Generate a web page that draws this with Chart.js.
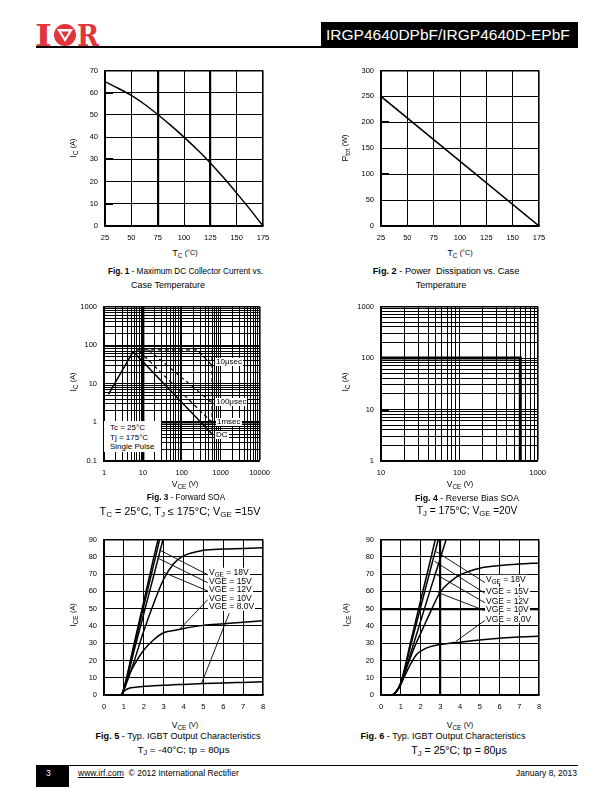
<!DOCTYPE html>
<html>
<head>
<meta charset="utf-8">
<script src="https://cdn.jsdelivr.net/npm/chart.js@4.4.1/dist/chart.umd.min.js"></script>
<style>
  body { margin: 0; width: 612px; height: 792px; position: relative; background: #fff;
         font-family: "Liberation Sans", Arial, sans-serif; color: #000; overflow: hidden; }
  canvas { position: absolute; }
  .t { position: absolute; white-space: nowrap; line-height: 1; }
  .c { transform: translate(-50%, -50%); text-align: center; }
  .yt { transform: translate(-50%, -50%) rotate(-90deg); }
  .lbl { background: #fff; padding: 0 1px; transform: translateY(-50%); }
  sub { font-size: 75%; vertical-align: -0.3em; line-height: 0; }
  .un { font-size: 85%; vertical-align: 0.15em; }
</style>
</head>
<body>

<!-- header -->
<svg class="t" style="left:35px;top:21px" width="66" height="28" viewBox="0 0 66 28">
  <text x="0" y="25" font-family="DejaVu Serif" font-weight="bold" font-size="30" fill="#e2353b" textLength="17" lengthAdjust="spacingAndGlyphs">I</text>
  <circle cx="30" cy="14" r="11" fill="#e2353b"/>
  <polygon points="22,8 38,8 30,21" fill="#fff"/>
  <polygon points="26,10.5 34,10.5 30,17" fill="#e2353b"/>
  <text x="42" y="25" font-family="DejaVu Serif" font-weight="bold" font-size="30" fill="#e2353b" textLength="22" lengthAdjust="spacingAndGlyphs">R</text>
</svg>
<div class="t" style="left:36px;top:46px;width:542px;height:1.5px;background:#000"></div>
<div class="t" style="left:321px;top:22px;width:257px;height:25px;background:#000;color:#fff;font-size:15.5px;line-height:25px;padding-left:5px;box-sizing:border-box">IRGP4640DPbF/IRGP4640D-EPbF</div>

<!-- axis titles -->
<div class="t yt" style="left:73px;top:148px;font-size:8.5px">I<sub>C</sub> <span class="un">(A)</span></div>
<div class="t c" style="left:185px;top:253px;font-size:8.5px">T<sub>C</sub> <span class="un">(°C)</span></div>
<div class="t yt" style="left:345px;top:148px;font-size:8.5px">P<sub>tot</sub> <span class="un">(W)</span></div>
<div class="t c" style="left:460px;top:253px;font-size:8.5px">T<sub>C</sub> <span class="un">(°C)</span></div>
<div class="t yt" style="left:73px;top:382px;font-size:8.5px">I<sub>C</sub> <span class="un">(A)</span></div>
<div class="t c" style="left:185px;top:484px;font-size:8.5px">V<sub>CE</sub> <span class="un">(V)</span></div>
<div class="t yt" style="left:345px;top:382px;font-size:8.5px">I<sub>C</sub> <span class="un">(A)</span></div>
<div class="t c" style="left:460px;top:484px;font-size:8.5px">V<sub>CE</sub> <span class="un">(V)</span></div>
<div class="t yt" style="left:73px;top:615px;font-size:8.5px">I<sub>CE</sub> <span class="un">(A)</span></div>
<div class="t c" style="left:185px;top:725px;font-size:8.5px">V<sub>CE</sub> <span class="un">(V)</span></div>
<div class="t yt" style="left:346px;top:615px;font-size:8.5px">I<sub>CE</sub> <span class="un">(A)</span></div>
<div class="t c" style="left:460px;top:725px;font-size:8.5px">V<sub>CE</sub> <span class="un">(V)</span></div>

<!-- captions -->
<div class="t c" style="left:185.5px;top:272px;font-size:8.2px"><b>Fig. 1</b> - Maximum DC Collector Current vs.</div>
<div class="t c" style="left:168px;top:284.5px;font-size:9px">Case Temperature</div>
<div class="t c" style="left:446px;top:272px;font-size:9.2px"><b>Fig. 2</b> - Power&nbsp; Dissipation vs. Case</div>
<div class="t c" style="left:441px;top:284.5px;font-size:9px">Temperature</div>
<div class="t c" style="left:186px;top:498px;font-size:8.2px"><b>Fig. 3</b> - Forward SOA</div>
<div class="t c" style="left:180px;top:510.5px;font-size:10.8px">T<sub>C</sub> = 25°C, T<sub>J</sub> ≤ 175°C; V<sub>GE</sub> =15V</div>
<div class="t c" style="left:467px;top:498px;font-size:8.8px"><b>Fig. 4</b> - Reverse Bias SOA</div>
<div class="t c" style="left:467px;top:510.5px;font-size:10.2px">T<sub>J</sub> = 175°C; V<sub>GE</sub> =20V</div>
<div class="t c" style="left:178px;top:737px;font-size:9.1px"><b>Fig. 5</b> - Typ. IGBT Output Characteristics</div>
<div class="t c" style="left:183.5px;top:749.5px;font-size:9.8px">T<sub>J</sub> = -40°C; tp = 80μs</div>
<div class="t c" style="left:443px;top:737px;font-size:9.1px"><b>Fig. 6</b> - Typ. IGBT Output Characteristics</div>
<div class="t c" style="left:459px;top:749.5px;font-size:10.5px">T<sub>J</sub> = 25°C; tp = 80μs</div>

<!-- footer -->
<div class="t" style="left:36px;top:765px;width:542px;height:1px;background:#000"></div>
<div class="t" style="left:36px;top:765px;width:33px;height:22px;background:#000;color:#fff;font-size:8.5px;line-height:16px;padding-left:10px;box-sizing:border-box">3</div>
<div class="t" style="left:78px;top:769px;font-size:8.5px"><u>www.irf.com</u>&nbsp; © 2012 International Rectifier</div>
<div class="t" style="left:500px;top:769px;width:77px;text-align:right;font-size:8.5px">January 8, 2013</div>

<!-- in-plot notes, Fig. 3 -->
<div class="t" style="left:104px;top:421px;width:57px;height:31px;background:#fff;font-size:8px;line-height:9.7px;padding:2px 0 0 6px;box-sizing:border-box">Tc = 25°C<br>Tj = 175°C<br>Single Pulse</div>
<div class="t lbl" style="left:215px;top:362px;font-size:8px">10μsec</div>
<div class="t lbl" style="left:215px;top:402px;font-size:8px">100μsec</div>
<div class="t lbl" style="left:216px;top:421.5px;font-size:8px">1msec</div>
<div class="t lbl" style="left:215px;top:435px;font-size:8px">DC</div>

<!-- in-plot notes, Fig. 5 -->
<div class="t lbl" style="left:208px;top:572px;font-size:8.5px">V<sub>GE</sub> = 18V</div>
<div class="t lbl" style="left:208px;top:580.5px;font-size:8.5px">VGE = 15V</div>
<div class="t lbl" style="left:208px;top:589px;font-size:8.5px">VGE = 12V</div>
<div class="t lbl" style="left:208px;top:597.7px;font-size:8.5px">VGE = 10V</div>
<div class="t lbl" style="left:208px;top:606.3px;font-size:8.5px">VGE = 8.0V</div>

<!-- in-plot notes, Fig. 6 -->
<div class="t lbl" style="left:485px;top:579px;font-size:8.5px">V<sub>GE</sub> = 18V</div>
<div class="t lbl" style="left:485px;top:591px;font-size:8.5px">VGE = 15V</div>
<div class="t lbl" style="left:485px;top:600.7px;font-size:8.5px">VGE = 12V</div>
<div class="t lbl" style="left:485px;top:608.7px;font-size:8.5px">VGE = 10V</div>
<div class="t lbl" style="left:485px;top:618.7px;font-size:8.5px">VGE = 8.0V</div>

<script>
// ---- Fig. 1: max DC collector current vs case temperature
const fig1Tc = [25, 37.5, 50, 62.5, 75, 87.5, 100, 112.5, 125, 137.5, 150, 162.5, 175];
const fig1Ic = [65, 62, 58.8, 54.8, 50.2, 45.3, 40, 34.4, 28.4, 21.8, 14.8, 7.6, 0];

// ---- Fig. 2: power dissipation vs case temperature
const fig2Tc = [25, 175];
const fig2Ptot = [250, 0];

// ---- Fig. 3: forward SOA (V, A)
const soaRiseV = [1.3, 5.6];
const soaRiseI = [5.3, 68];
const soaDcV = [5.6, 600];
const soaDcI = [68, 0.5];
const soa10usV = [7, 250, 600];
const soa10usI = [75, 75, 30];
const soa100usV = [14, 600];
const soa100usI = [75, 3.2];
const soa1msV = [8, 600];
const soa1msI = [70, 1.0];
const soaVmaxV = [600, 600];
const soaVmaxI = [75, 0.5];

// ---- Fig. 4: reverse bias SOA
const rbsoaV = [10, 600, 600];
const rbsoaI = [100, 100, 1];

// ---- Fig. 5: output characteristics, Tj = -40 C
const f5Vce = [0, 0.85, 1.0, 1.2, 1.5, 2.0, 2.5, 3.0, 3.5, 4.0, 5.0, 6.0, 7.0, 8.0];
const f5Ic12 = [0, 0, 3, 9, 19, 37, 53, 67, 76, 80.5, 83.8, 84.5, 84.8, 85.2];
const f5Ic10 = [0, 0, 3, 10, 17, 26, 32, 36, 37.3, 38.5, 40.3, 41.2, 42.1, 43];
const f5Ic8 = [0, 0, 2, 3.6, 4.4, 5, 5.3, 5.6, 5.9, 6.1, 6.6, 7, 7.3, 7.6];
const f5VceA = [0, 0.85, 1.0, 1.5, 2.0, 2.5, 2.72];
const f5IcA = [0, 0, 4, 29, 54, 79.5, 90];
const f5Vce18 = [0, 0.85, 1.0, 1.5, 2.0, 2.5, 2.8];
const f5Ic18 = [0, 0, 3.5, 27.5, 51.5, 75.5, 90];
const f5Vce15 = [0, 0.85, 1.0, 1.5, 2.0, 2.5, 2.97];
const f5Ic15 = [0, 0, 3, 25, 47, 69, 90];
// label leader lines: [curve x, curve y, label x, label y]
const f5Leaders = [[2.78, 84, 5.22, 69.6], [2.75, 79, 5.22, 65], [3.0, 71, 5.22, 60.2], [3.8, 38, 5.22, 55.2], [4.9, 6.5, 6.3, 47.3]];

// ---- Fig. 6: output characteristics, Tj = 25 C
const f6Vce = [0, 0.5, 0.7, 0.9, 1.2, 1.5, 1.8, 2.1, 2.5, 3.0, 3.5, 4.0, 5.0, 6.0, 7.0, 8.0];
const f6Ic10 = [0, 0, 1, 4.5, 13, 22, 30.5, 38, 48, 59.5, 65.5, 69.5, 73.4, 74.9, 75.8, 76.4];
const f6Ic8 = [0, 0, 1, 4, 11, 18, 23.5, 26, 28, 29.2, 30, 30.6, 31.9, 32.9, 33.5, 34];
const f6Vce18 = [0, 0.5, 0.7, 1.0, 1.5, 2.0, 2.5, 2.75];
const f6Ic18 = [0, 0, 1, 7, 30.7, 54.4, 78, 90];
const f6Vce15 = [0, 0.5, 0.7, 1.0, 1.5, 2.0, 2.5, 2.9];
const f6Ic15 = [0, 0, 1, 6.5, 28.5, 50.5, 72.5, 90];
const f6Vce12 = [0, 0.5, 0.7, 1.0, 1.5, 2.0, 2.5, 3.0, 3.3];
const f6Ic12 = [0, 0, 1, 6, 24, 42.5, 61, 79, 90];
const f6Leaders = [[2.79, 83, 5.26, 65.1], [2.71, 77.4, 5.26, 58.9], [2.79, 69.8, 5.26, 53.4], [2.87, 59.4, 5.26, 48.8], [3.8, 31.1, 5.26, 43.2]];

// ---- tick labels
const tempTicks = [25, 50, 75, 100, 125, 150, 175];
const soaXLabels = [1, 10, 100, 1000, 10000];
const soaYLabels = [0.1, 1, 10, 100, 1000];
const rbXLabels = [10, 100, 1000];
const rbYLabels = [1, 10, 100, 1000];

// short heavy marks on the left frame seen in the scans
const fig1Stubs = [60, 30, 10];
const fig2Stubs = [200, 100];
const fig3Stubs = [1];
const fig4Stubs = [10];

const PAD = { left: 45, top: 8, right: 14, bottom: 20 };
const tickFont = { family: 'Liberation Sans', size: 7.5 };

const stubPlugin = {
  id: 'stubs',
  afterDraw(chart, args, opts) {
    const ctx = chart.ctx, a = chart.chartArea, ys = chart.scales.y;
    ctx.save();
    ctx.strokeStyle = '#000';
    ctx.lineWidth = 2;
    (opts.values || []).forEach(v => {
      const py = Math.round(ys.getPixelForValue(v));
      ctx.beginPath(); ctx.moveTo(a.left, py); ctx.lineTo(a.left + 8, py); ctx.stroke();
    });
    ctx.restore();
  }
};

function pts(xs, ys) { return xs.map((x, i) => ({ x, y: ys[i] })); }
function line(xs, ys, extra) {
  return Object.assign({ data: pts(xs, ys), showLine: true, borderColor: '#000', borderWidth: 1.5, pointRadius: 0 }, extra || {});
}
function leaders(list) {
  return list.map(l => line([l[0], l[2]], [l[1], l[3]], { borderWidth: 0.9 }));
}

function linAxis(min, max, step, thick, isX) {
  return {
    type: 'linear', min, max,
    ticks: { stepSize: step, autoSkip: false, maxRotation: 0, padding: 7, color: '#000', font: tickFont },
    grid: { color: '#000', drawTicks: false,
            lineWidth: c => c.tick.value === max ? 1.6 : (thick.includes(c.tick.value) ? 2.2 : 1) },
    border: { color: '#000', width: 1.6 },
    afterFit: s => { if (isX) s.height = PAD.bottom; else s.width = PAD.left; }
  };
}

function logAxis(min, max, labels, thick, isX) {
  const vals = [];
  for (let e = Math.round(Math.log10(min)); e < Math.round(Math.log10(max)); e++)
    for (let k = 1; k <= 9; k++) vals.push(Number((k * Math.pow(10, e)).toPrecision(6)));
  vals.push(max);
  return {
    type: 'logarithmic', min, max,
    afterBuildTicks: s => { s.ticks = vals.map(v => ({ value: v })); },
    ticks: { autoSkip: false, maxRotation: 0, padding: 7, color: '#000', font: tickFont,
             callback: v => labels.includes(v) ? String(v) : '' },
    grid: { color: '#000', drawTicks: false,
            lineWidth: c => c.tick.value === max ? 1.6 : (thick.includes(c.tick.value) ? 2.4 : 1) },
    border: { color: '#000', width: 1.6 },
    afterFit: s => { if (isX) s.height = PAD.bottom; else s.width = PAD.left; }
  };
}

// rect = plot area [left, top, width, height] in page pixels
function plot(rect, xAxis, yAxis, datasets, stubs) {
  const c = document.createElement('canvas');
  const w = rect[2] + PAD.left + PAD.right, h = rect[3] + PAD.top + PAD.bottom;
  c.width = w; c.height = h;
  c.style.width = w + 'px'; c.style.height = h + 'px';
  c.style.left = (rect[0] - PAD.left) + 'px';
  c.style.top = (rect[1] - PAD.top) + 'px';
  document.body.insertBefore(c, document.body.firstChild);
  return new Chart(c, {
    type: 'scatter',
    data: { datasets },
    options: {
      responsive: false, animation: false, devicePixelRatio: 1,
      layout: { padding: { top: PAD.top, right: PAD.right } },
      plugins: { legend: { display: false }, tooltip: { enabled: false }, stubs: { values: stubs || [] } },
      scales: { x: xAxis, y: yAxis }
    },
    plugins: [stubPlugin]
  });
}

const mono = { cubicInterpolationMode: 'monotone' };
const dash = { borderDash: [4, 3], borderWidth: 1.2 };

plot([105, 67, 158, 159], linAxis(25, 175, 25, [75, 125], true), linAxis(0, 70, 10, [], false),
  [line(fig1Tc, fig1Ic, mono)], fig1Stubs);

plot([381, 67, 158, 159], linAxis(25, 175, 25, [], true), linAxis(0, 300, 50, [], false),
  [line(fig2Tc, fig2Ptot)], fig2Stubs);

plot([104, 303, 159, 158], logAxis(1, 10000, soaXLabels, [10], true), logAxis(0.1, 1000, soaYLabels, [1], false),
  [line(soaRiseV, soaRiseI), line(soaDcV, soaDcI),
   line(soa10usV, soa10usI, dash), line(soa100usV, soa100usI, dash),
   line(soa1msV, soa1msI, dash), line(soaVmaxV, soaVmaxI, dash)], fig3Stubs);

plot([381, 303, 158, 158], logAxis(10, 1000, rbXLabels, [], true), logAxis(1, 1000, rbYLabels, [], false),
  [line(rbsoaV, rbsoaI, { borderWidth: 3 })], fig4Stubs);

plot([104, 536, 159, 159], linAxis(0, 8, 1, [], true), linAxis(0, 90, 10, [], false),
  [line(f5VceA, f5IcA, mono), line(f5Vce18, f5Ic18, mono), line(f5Vce15, f5Ic15, mono),
   line(f5Vce, f5Ic12, mono), line(f5Vce, f5Ic10, mono), line(f5Vce, f5Ic8, mono)]
  .concat(leaders(f5Leaders)));

plot([381, 536, 158, 159], linAxis(0, 8, 1, [3], true), linAxis(0, 90, 10, [50], false),
  [line(f6Vce18, f6Ic18, mono), line(f6Vce15, f6Ic15, mono), line(f6Vce12, f6Ic12, mono),
   line(f6Vce, f6Ic10, mono), line(f6Vce, f6Ic8, mono)]
  .concat(leaders(f6Leaders)));
</script>
</body>
</html>
